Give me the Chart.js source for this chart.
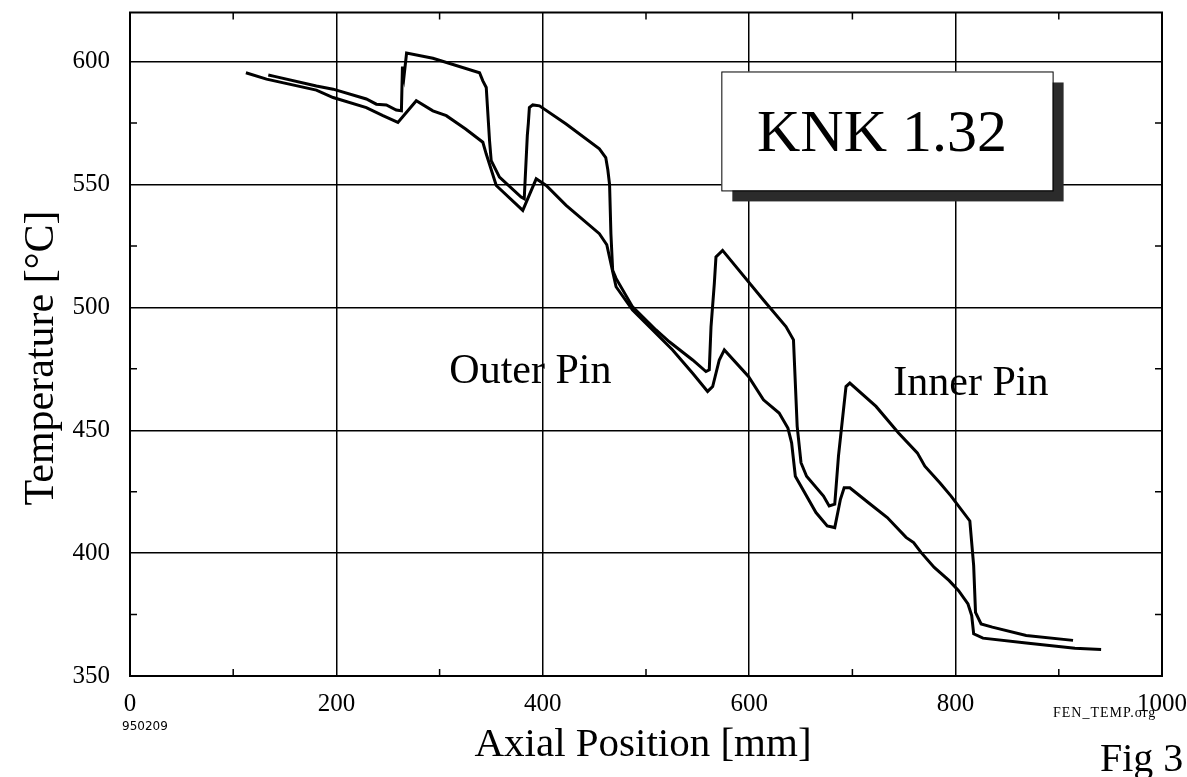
<!DOCTYPE html>
<html>
<head>
<meta charset="utf-8">
<title>KNK 1.32 - Fig 3</title>
<script src="https://cdn.jsdelivr.net/npm/chart.js@4/dist/chart.umd.min.js"></script>
<style>
  html, body { margin: 0; padding: 0; background: #fff; }
  #chart { display: block; }
</style>
</head>
<body>
<canvas id="chart" width="1187" height="777"></canvas>
<script>
/* =====================
Data
===================== */

// upper curve (hotter pin) - axial position [mm] and temperature [C]
var innerX = [134, 140, 180.6, 196.8, 229, 238.7, 248.4, 258, 263, 264, 265.5, 268, 293.5, 338.7, 341.9, 345.2,
  348.4, 350, 358, 379, 382, 385, 386, 387, 390.3, 396.8, 422.6, 454.8, 461, 463, 464.7, 466, 467.7,
  471, 487, 509.7, 522.6, 545.2, 558.1, 561.3, 563, 566.2, 567.8, 574.2, 613.8, 635.6, 642.9, 646.5,
  650.2, 655.6, 672, 677.5, 682.9, 686.5, 693.8, 697.5, 722.9, 744.7, 762.9, 770.2, 784.7, 795.6,
  813.8, 817.5, 819.3, 824.7, 835.6, 868.4, 913.8];
var innerT = [594.6, 594.0, 590.1, 588.8, 584.8, 582.7, 582.4, 580.3, 580, 598, 594, 603.5, 601.4, 595.5, 592.2, 589.5,
  567.8, 559.7, 553, 544.9, 544.2, 570, 575, 581.3, 582.4, 582, 574.6, 564.5, 561, 556, 550, 530, 515.1,
  511.8, 500.2, 490.8, 486, 478.6, 473.9, 474.6, 492.1, 509.7, 520.5, 523.2, 503, 492.2, 486.8, 451.6,
  436.8, 431.3, 423.2, 419.2, 419.9, 439.5, 467.8, 469.2, 459.7, 448.9, 440.8, 435.4, 428.6, 423.2,
  413.1, 394.9, 375.9, 371.2, 369.9, 366.5, 364.5];

// lower curve
var outerX = [112.3, 132.3, 180.6, 196.8, 229, 245.1, 259.6, 277.4, 293.5, 306.5, 325.2, 341.9, 345.2, 354.9,
  380.6, 393.6, 403.3, 422.6, 454.8, 462, 468, 471, 487, 506.4, 525.8, 545.2, 559.7, 564.6, 571, 575.9,
  599.3, 613.8, 629, 637.5, 641.1, 644.7, 652, 664.7, 675.6, 682.9, 688.4, 692, 697.5, 715.6, 733.8,
  752, 759.3, 766.5, 779.3, 793.8, 802.9, 812, 815.6, 817.5, 826.5, 868.4, 915.6, 941];
var outerT = [595.5, 592.9, 588.4, 585.4, 581.3, 578, 575.3, 584.1, 580, 578, 572.6, 567.2, 562.4, 549.6,
  539.5, 552.3, 549.6, 541.5, 530, 525.5, 514, 508.4, 498.9, 490.8, 482.7, 473.2, 465.8, 467.8, 478.6, 482.7,
  471.9, 462.4, 457, 450.9, 444.9, 431.3, 425.9, 416.5, 411.1, 410.4, 421.9, 426.6, 426.6, 420.5, 414.5,
  406.4, 404.3, 400.3, 394.2, 388.8, 384.7, 379.3, 374.6, 367.2, 365.4, 363.4, 361.3, 360.8];

var xTicks = [0, 200, 400, 600, 800, 1000];
var xMinor = [100, 300, 500, 700, 900];
var yTicks = [350, 400, 450, 500, 550, 600];
var yMinor = [375, 425, 475, 525, 575];

var serif = "'Liberation Serif', 'Times New Roman', serif";

function toPoints(xs, ys) {
  return xs.map(function (x, i) { return { x: x, y: ys[i] }; });
}

/* =====================
extra drawing: frame, inner ticks, labels box, texts
===================== */
var decor = {
  id: 'decor',
  beforeDatasetsDraw: function (chart) {
    var ctx = chart.ctx, a = chart.chartArea;
    var sx = chart.scales.x, sy = chart.scales.y;
    ctx.save();
    ctx.strokeStyle = '#000';
    ctx.lineWidth = 2;
    ctx.strokeRect(a.left, a.top, a.right - a.left, a.bottom - a.top);

    // minor ticks inside the frame
    ctx.lineWidth = 1.5;
    ctx.beginPath();
    xMinor.forEach(function (v) {
      var px = sx.getPixelForValue(v);
      ctx.moveTo(px, a.bottom); ctx.lineTo(px, a.bottom - 7);
      ctx.moveTo(px, a.top); ctx.lineTo(px, a.top + 7);
    });
    yMinor.forEach(function (v) {
      var py = sy.getPixelForValue(v);
      ctx.moveTo(a.left, py); ctx.lineTo(a.left + 7, py);
      ctx.moveTo(a.right, py); ctx.lineTo(a.right - 7, py);
    });
    ctx.stroke();

    // KNK label box with shadow
    var bx1 = sx.getPixelForValue(573), bx2 = sx.getPixelForValue(894);
    var by1 = sy.getPixelForValue(596), by2 = sy.getPixelForValue(547.6);
    ctx.fillStyle = '#2b2b2b';
    ctx.fillRect(bx1 + 11, by1 + 11, bx2 - bx1, by2 - by1);
    ctx.fillStyle = '#fff';
    ctx.fillRect(bx1, by1, bx2 - bx1, by2 - by1);
    ctx.lineWidth = 1;
    ctx.strokeRect(bx1 + 0.5, by1 + 0.5, bx2 - bx1, by2 - by1);

    ctx.fillStyle = '#000';
    ctx.textAlign = 'center';
    ctx.textBaseline = 'alphabetic';
    ctx.font = '60px ' + serif;
    ctx.fillText('KNK 1.32', sx.getPixelForValue(728.7), sy.getPixelForValue(563.5));

    ctx.font = '42px ' + serif;
    ctx.fillText('Outer Pin', sx.getPixelForValue(388), sy.getPixelForValue(469.3));
    ctx.fillText('Inner Pin', sx.getPixelForValue(814.8), sy.getPixelForValue(464.4));
    ctx.restore();
  },
  afterDraw: function (chart) {
    var ctx = chart.ctx;
    ctx.save();
    ctx.fillStyle = '#000';
    ctx.textBaseline = 'alphabetic';

    // axis titles
    ctx.textAlign = 'center';
    ctx.font = '41px ' + serif;
    ctx.fillText('Axial Position [mm]', 643, 756);
    ctx.save();
    ctx.translate(53, 358);
    ctx.rotate(-Math.PI / 2);
    ctx.font = '42px ' + serif;
    ctx.fillText('Temperature [\u00B0C]', 0, 0);
    ctx.restore();

    // small notes
    ctx.textAlign = 'left';
    ctx.font = "12px 'DejaVu Sans', sans-serif";
    ctx.fillText('950209', 122, 730);
    ctx.font = '14px ' + serif;
    ctx.letterSpacing = '1px';
    ctx.fillText('FEN_TEMP.org', 1053, 717);
    ctx.letterSpacing = '0px';
    ctx.font = '40px ' + serif;
    ctx.fillText('Fig 3', 1100, 771);
    ctx.restore();
  }
};

/* =====================
Chart.js configuration
===================== */
var chart = new Chart(document.getElementById('chart'), {
  type: 'line',
  data: {
    datasets: [
      {
        label: 'Inner Pin',
        data: toPoints(innerX, innerT),
        borderColor: '#000',
        borderWidth: 3,
        pointRadius: 0,
        tension: 0,
        fill: false
      },
      {
        label: 'Outer Pin',
        data: toPoints(outerX, outerT),
        borderColor: '#000',
        borderWidth: 3,
        pointRadius: 0,
        tension: 0,
        fill: false
      }
    ]
  },
  options: {
    responsive: false,
    animation: false,
    devicePixelRatio: 1,
    layout: { padding: { top: 11, right: 24, left: 0, bottom: 0 } },
    plugins: {
      legend: { display: false },
      tooltip: { enabled: false }
    },
    scales: {
      x: {
        type: 'linear',
        min: 0,
        max: 1000,
        afterBuildTicks: function (s) { s.ticks = xTicks.map(function (v) { return { value: v }; }); },
        afterFit: function (s) { s.height = 101; },
        grid: { color: '#000', lineWidth: 1.5, drawTicks: true, tickLength: 16, tickColor: 'rgba(0,0,0,0)' },
        border: { display: true, color: '#000', width: 2 },
        ticks: {
          color: '#000',
          font: { family: serif, size: 25, lineHeight: 1 },
          padding: 0,
          maxRotation: 0,
          autoSkip: false,
          callback: function (v) { return String(v); }
        }
      },
      y: {
        type: 'linear',
        min: 350,
        max: 620,
        afterBuildTicks: function (s) { s.ticks = yTicks.map(function (v) { return { value: v }; }); },
        afterFit: function (s) { s.width = 130; },
        grid: { color: '#000', lineWidth: 1.5, drawTicks: true, tickLength: 20, tickColor: 'rgba(0,0,0,0)' },
        border: { display: true, color: '#000', width: 2 },
        ticks: {
          color: '#000',
          font: { family: serif, size: 25, lineHeight: 1 },
          padding: 0,
          autoSkip: false
        }
      }
    }
  },
  plugins: [decor]
});
</script>
</body>
</html>
